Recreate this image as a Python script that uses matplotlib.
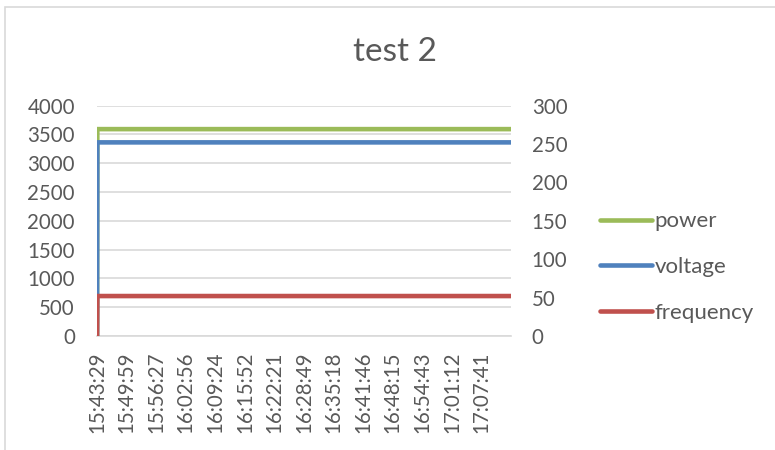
import matplotlib
matplotlib.use("Agg")
import matplotlib.pyplot as plt
from matplotlib.patches import Rectangle
from datetime import datetime

# sample times and readings
sample_times = ["15:43:29", "15:43:33", "17:14:08"]
power = [0, 3590, 3590]
voltage = [0, 252, 252]
frequency = [0, 52, 52]

tick_labels = ["15:43:29", "15:49:59", "15:56:27", "16:02:56", "16:09:24",
               "16:15:52", "16:22:21", "16:28:49", "16:35:18", "16:41:46",
               "16:48:15", "16:54:43", "17:01:12", "17:07:41"]

left_ticks = [0, 500, 1000, 1500, 2000, 2500, 3000, 3500, 4000]
right_ticks = [0, 50, 100, 150, 200, 250, 300]


def secs(t):
    d = datetime.strptime(t, "%H:%M:%S")
    return d.hour * 3600 + d.minute * 60 + d.second


t0 = secs(sample_times[0])
x = [secs(t) - t0 for t in sample_times]
xt = [secs(t) - t0 for t in tick_labels]

plt.rcParams['font.family'] = ['Lato', 'DejaVu Sans']
txt = '#595959'
grid = '#D9D9D9'

fig = plt.figure(figsize=(7.75, 4.5), dpi=100)
fig.patches.append(Rectangle((5 / 775, -0.1), 1.2, 1 - 7 / 450 + 0.1,
                             transform=fig.transFigure, fill=False,
                             edgecolor=grid, lw=1.2))

ax = fig.add_axes([97 / 775, 1 - 336 / 450, (511 - 97) / 775, (336 - 105.5) / 450])
ax2 = ax.twinx()

l1, = ax.plot(x, power, color='#9BBB59', lw=3.3, solid_capstyle='round',
              solid_joinstyle='miter', label='power', zorder=3)
l2, = ax2.plot(x, voltage, color='#4F81BD', lw=3.3, solid_capstyle='round',
               solid_joinstyle='miter', label='voltage', zorder=3)
l3, = ax2.plot(x, frequency, color='#C0504D', lw=3.3, solid_capstyle='round',
               solid_joinstyle='miter', label='frequency', zorder=4)

ax.set_xlim(x[0], x[-1])
ax.set_ylim(0, 4000)
ax2.set_ylim(0, 300)
ax.set_yticks(left_ticks)
ax2.set_yticks(right_ticks)
ax.set_xticks(xt)
ax.set_xticklabels(tick_labels, rotation=90, ha='center', va='top')

ax.grid(axis='y', color=grid, lw=1.2)
ax.set_axisbelow(True)
for a in (ax, ax2):
    for s in a.spines.values():
        s.set_visible(False)
ax.spines['bottom'].set_visible(True)
ax.spines['bottom'].set_color(grid)
ax.spines['bottom'].set_linewidth(1.2)

ax.tick_params(axis='y', length=0, pad=16, labelsize=14.8, labelcolor=txt)
ax2.tick_params(axis='y', length=0, pad=15, labelsize=14.8, labelcolor=txt)
ax.tick_params(axis='x', length=0, pad=11, labelsize=14.8, labelcolor=txt)

fig.text(395 / 775, 1 - 52 / 450, 'test 2', ha='center', va='center',
         fontsize=24, color=txt)

fig.legend(handles=[l1, l2, l3], loc='center left',
           bbox_to_anchor=(580 / 775, 1 - 267 / 450), frameon=False,
           fontsize=16, labelcolor=txt, handlelength=2.35,
           handletextpad=0.1, labelspacing=1.15)

fig.savefig('out.png', dpi=100)
